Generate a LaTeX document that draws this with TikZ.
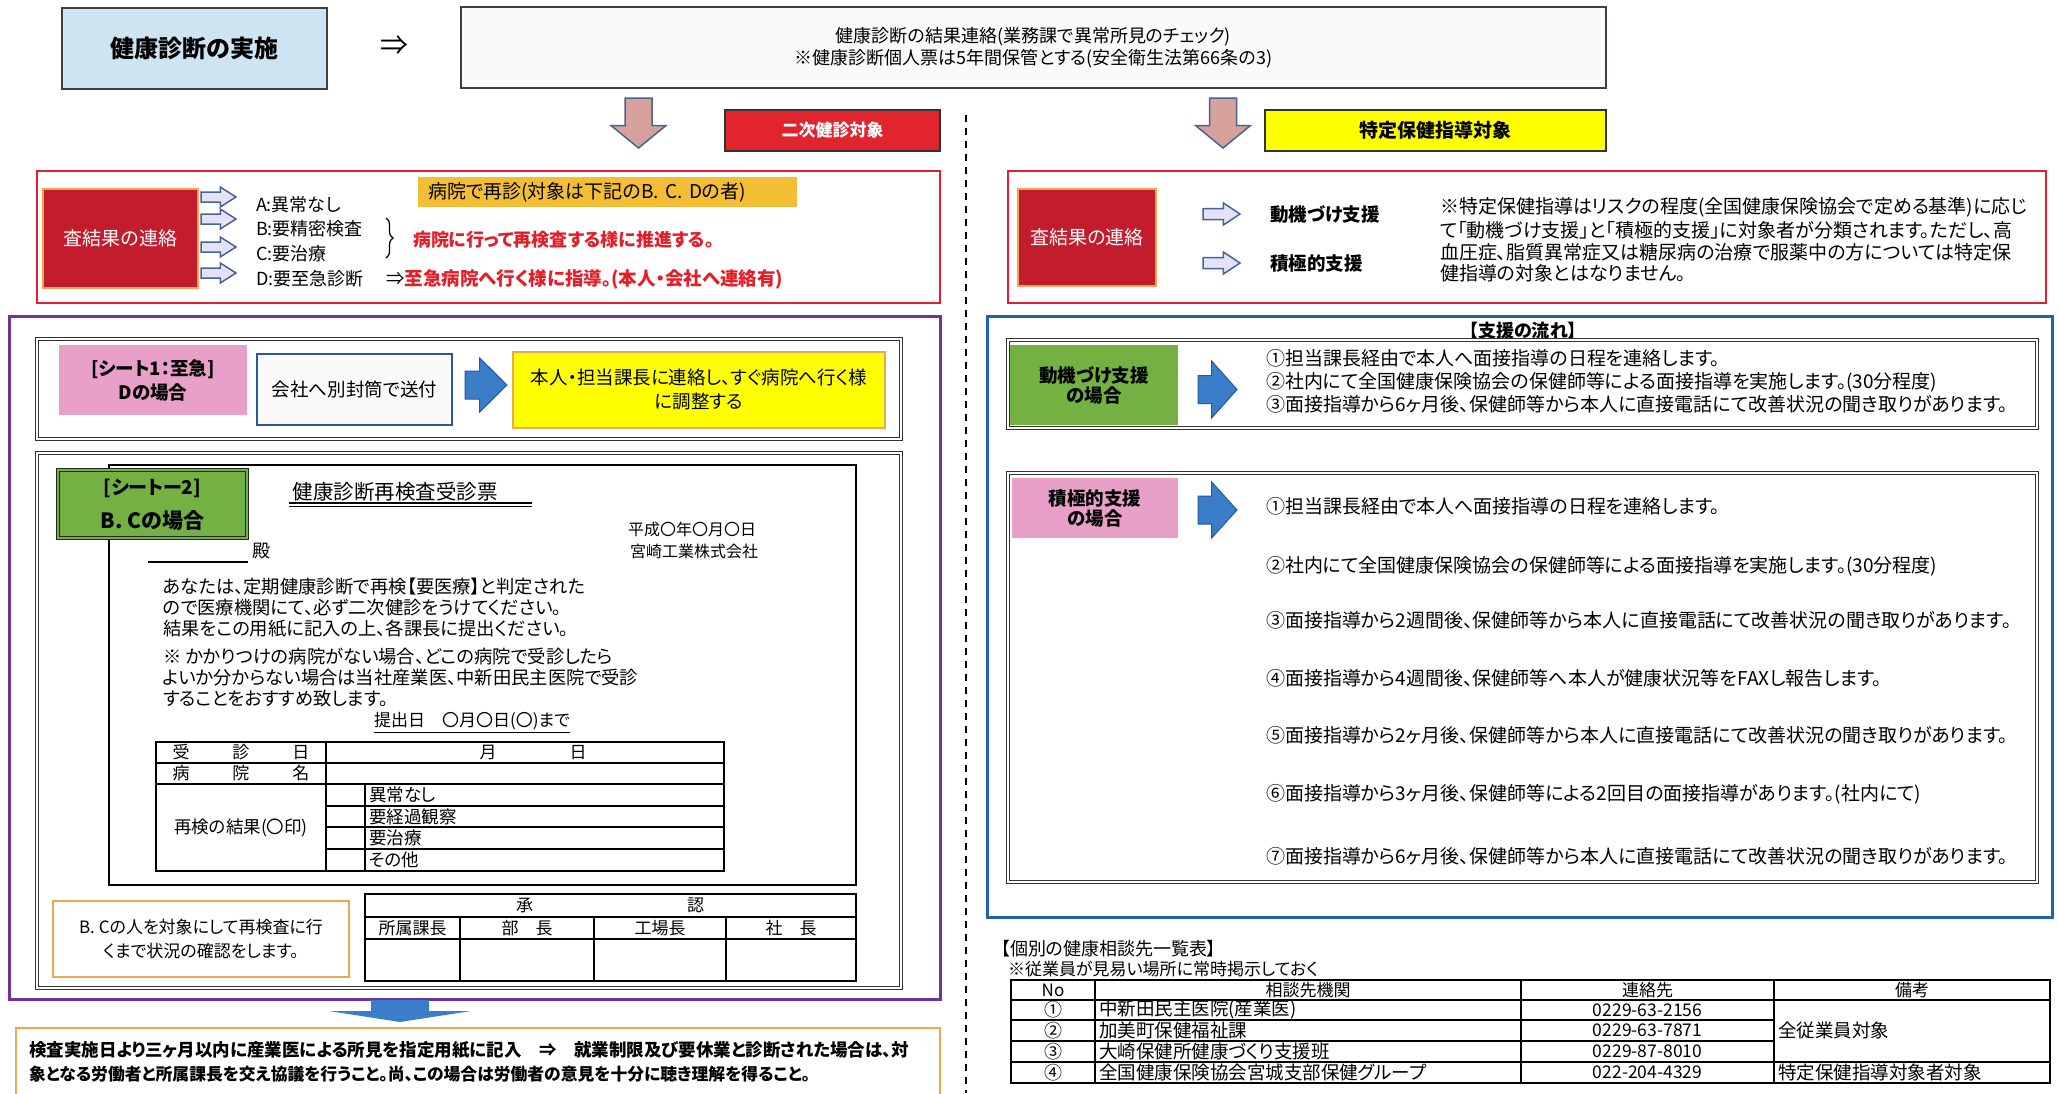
\documentclass[tikz,border=0pt]{standalone}
\usepackage{fontspec}
\setmainfont[RawFeature=+palt]{Noto Sans CJK JP}
\usetikzlibrary{decorations.pathreplacing}
\newcommand{\fsz}[2]{\fontsize{#1}{#2}\selectfont}
\newcommand{\blockR}[7]{\draw[#1] ({#2},{#4-#6}) -- ({#2+#7*(#3-#2)},{#4-#6}) -- ({#2+#7*(#3-#2)},{#4-#5}) -- ({#3},{#4}) -- ({#2+#7*(#3-#2)},{#4+#5}) -- ({#2+#7*(#3-#2)},{#4+#6}) -- ({#2},{#4+#6}) -- cycle;}
\newcommand{\blockD}[7]{\draw[#1] ({#2-#6},{#3}) -- ({#2+#6},{#3}) -- ({#2+#6},{#3+#7*(#4-#3)}) -- ({#2+#5},{#3+#7*(#4-#3)}) -- ({#2},{#4}) -- ({#2-#5},{#3+#7*(#4-#3)}) -- ({#2-#6},{#3+#7*(#4-#3)}) -- cycle;}
\definecolor{cLB}{RGB}{205,228,243}
\definecolor{cTop}{RGB}{251,249,249}
\definecolor{cPinkArr}{RGB}{214,160,155}
\definecolor{cArrEdge}{RGB}{70,100,150}
\definecolor{cRed}{RGB}{226,36,44}
\definecolor{cFrameRed}{RGB}{225,30,50}
\definecolor{cDarkRed}{RGB}{195,28,45}
\definecolor{cOrange}{RGB}{240,165,80}
\definecolor{cGold}{RGB}{243,190,52}
\definecolor{cPurple}{RGB}{112,48,160}
\definecolor{cBlue}{RGB}{32,98,178}
\definecolor{cPink}{RGB}{232,160,200}
\definecolor{cGreen}{RGB}{115,178,66}
\definecolor{cArrBlue}{RGB}{58,125,200}
\definecolor{cArrBlueE}{RGB}{40,88,160}
\definecolor{cSmallArr}{RGB}{228,226,246}
\definecolor{cTxtRed}{RGB}{228,30,40}
\definecolor{cYellow}{RGB}{255,255,0}
\tikzset{
  txt/.style={font=\fsz{#1}{#1}},
  dbl/.style={draw=black!80, double=white, double distance=2.5pt, line width=1pt},
  smallarr/.style={fill=cSmallArr, draw=cArrEdge, line width=1.5pt},
  bigarr/.style={fill=cArrBlue, draw=cArrBlueE, line width=1pt},
  pinkarr/.style={fill=cPinkArr, draw=cArrEdge, line width=1.5pt},
  redblock/.style={fill=cDarkRed, draw=cOrange, line width=2pt, text=white, font=\fsz{19}{22}},
}
\begin{document}
\begin{tikzpicture}[x=1pt,y=-1pt, every node/.style={inner sep=0pt, outer sep=0pt}]
\useasboundingbox (0,0) rectangle (2059,1093);
\fill[white] (0,0) rectangle (2059,1093);

% ---------- top ----------
\node[draw=black!75, line width=1.5pt, fill=cLB, minimum width=265, minimum height=81, font=\fsz{24}{28}\bfseries] (jisshi) at (194.5,48.5) {健康診断の実施};
\node[font=\fsz{28}{30}] (imp) at (394,46) {⇒};
\node[draw=black!75, line width=1.5pt, fill=cTop, minimum width=1145, minimum height=81, align=center, font=\fsz{18}{22}] (renraku) at (1033.5,47.5) {健康診断の結果連絡(業務課で異常所見のチェック)\\※健康診断個人票は5年間保管とする(安全衛生法第66条の3)};
\blockD{pinkarr}{638.5}{98}{148}{27.5}{13.5}{0.55}
\blockD{pinkarr}{1223}{98}{148}{27.5}{13.5}{0.55}
\node[draw=black!80, line width=2pt, fill=cRed, minimum width=215, minimum height=41, text=white, font=\fsz{17}{20}\bfseries] (niji) at (832.5,130.5) {二次健診対象};
\node[draw=black!80, line width=2pt, fill=cYellow, minimum width=341, minimum height=41, font=\fsz{19}{22}\bfseries] (tokutei) at (1435.5,130.5) {特定保健指導対象};
\coordinate (dtop) at (966,115);
\coordinate (dbot) at (966,1093);
\draw[line width=1.8pt, dash pattern=on 7pt off 6pt] (dtop) -- (dbot);

% ---------- left red box ----------
\node[draw=cFrameRed, line width=2.5pt, minimum width=903, minimum height=132] (redL) at (488.5,237) {};
\node[redblock, minimum width=155, minimum height=99] (kekkaL) at (120.5,238.5) {査結果の連絡};
\foreach \yy in {197,219,247,273} {\blockR{smallarr}{201}{236}{\yy}{10}{5}{0.55}}
\node[anchor=west, txt=18] (gA) at (256,205) {A:異常なし};
\node[anchor=west, txt=18] (gB) at (256,229) {B:要精密検査};
\node[anchor=west, txt=18] (gC) at (256,254) {C:要治療};
\node[anchor=west, txt=18] (gD) at (256,279) {D:要至急診断};
\draw[decorate, decoration={brace, amplitude=7pt}, line width=1.2pt] (386,218) -- (386,258);
\node[anchor=west, text=cTxtRed, font=\fsz{18}{18}\bfseries] (suishin) at (413,240) {病院に行って再検査する様に推進する。};
\node[anchor=west, font=\fsz{18.5}{18}] (shikyu) at (386,279) {⇒\textcolor{cTxtRed}{\bfseries 至急病院へ行く様に指導。(本人・会社へ連絡有)}};
\node[fill=cGold, minimum width=379, minimum height=30, text width=359, align=left, txt=19] (saishin) at (607.5,192) {病院で再診(対象は下記のB. C. Dの者)};

% ---------- right red box ----------
\node[draw=cFrameRed, line width=2.5pt, minimum width=1038, minimum height=132] (redR) at (1527,237) {};
\node[redblock, minimum width=138, minimum height=97] (kekkaR) at (1087,237.5) {査結果の連絡};
\blockR{smallarr}{1203}{1240}{214}{11}{5.5}{0.55}
\blockR{smallarr}{1203}{1240}{263}{11}{5.5}{0.55}
\node[anchor=west, font=\fsz{18.5}{20}\bfseries] (doki) at (1270,214) {動機づけ支援};
\node[anchor=west, font=\fsz{18.5}{20}\bfseries] (sekkyoku) at (1270,264) {積極的支援};
\node[anchor=west, txt=19] (p1) at (1440,207) {※特定保健指導はリスクの程度(全国健康保険協会で定める基準)に応じ};
\node[anchor=west, txt=19] (p2) at (1440,230) {て「動機づけ支援」と「積極的支援」に対象者が分類されます。ただし、高};
\node[anchor=west, txt=19] (p3) at (1440,252) {血圧症、脂質異常症又は糖尿病の治療で服薬中の方については特定保};
\node[anchor=west, txt=19] (p4) at (1440,273) {健指導の対象とはなりません。};

% ---------- left purple box ----------
\node[draw=cPurple, line width=3pt, minimum width=931, minimum height=683] (purple) at (474.5,657.5) {};
\node[dbl, minimum width=864, minimum height=100] (sheet1) at (469,389) {};
\node[fill=cPink, minimum width=188, minimum height=70, align=center, font=\fsz{18.5}{24}\bfseries] (s1lab) at (153,380) {[シート1：至急]\\Dの場合};
\node[draw=cArrBlueE, line width=2pt, fill=cTop, minimum width=195, minimum height=71, txt=18.5] (fuso) at (354.5,389.5) {会社へ別封筒で送付};
\blockR{bigarr}{465}{507}{385}{27}{14}{0.35}
\node[fill=cYellow, draw=cOrange, line width=2pt, minimum width=372, minimum height=76, align=center, font=\fsz{18.5}{24}] (chosei) at (699,390) {本人・担当課長に連絡し、すぐ病院へ行く様\\に調整する};

\node[dbl, minimum width=864, minimum height=535] (sheet2) at (469,720.5) {};
\node[draw=black, line width=1.5pt, minimum width=747, minimum height=420] (form) at (482.5,675) {};
\node[fill=cGreen, draw=black!85, line width=1pt, double=cGreen, double distance=1.5pt, minimum width=189, minimum height=68] (s2lab) at (152.5,504) {};
\node[font=\fsz{19}{20}\bfseries] (s2a) at (152.5,488) {[シートー2]};
\node[font=\fsz{21}{22}\bfseries] (s2b) at (152.5,521) {B. Cの場合};

\node[txt=20.5] (title) at (395,492) {健康診断再検査受診票};
\draw[line width=1.2pt] (289,503) -- (532,503);
\draw[line width=1.2pt] (289,506.5) -- (532,506.5);
\node[txt=16] (date) at (692,529) {平成〇年〇月〇日};
\node[txt=16] (company) at (694,551) {宮崎工業株式会社};
\draw[line width=1.2pt] (148,562) -- (248,562);
\node[anchor=west, txt=18] (tono) at (252,551) {殿};
\node[anchor=west, txt=18.3] (f1) at (163,587) {あなたは、定期健康診断で再検【要医療】と判定された};
\node[anchor=west, txt=18.3] (f2) at (163,608) {ので医療機関にて、必ず二次健診をうけてください。};
\node[anchor=west, txt=18.3] (f3) at (163,629) {結果をこの用紙に記入の上、各課長に提出ください。};
\node[anchor=west, txt=18.3] (f4) at (163,657) {※ かかりつけの病院がない場合、どこの病院で受診したら};
\node[anchor=west, txt=18.3] (f5) at (163,678) {よいか分からない場合は当社産業医、中新田民主医院で受診};
\node[anchor=west, txt=18.3] (f6) at (163,699) {することをおすすめ致します。};
\node[txt=17] (teishutsu) at (472,721) {提出日　〇月〇日(〇)まで};
\draw[line width=1.2pt] ([yshift=-3pt]teishutsu.south west) -- ([yshift=-3pt]teishutsu.south east);

% table 1
\draw[line width=1.5pt] (156,742) rectangle (724,871);
\draw[line width=1.5pt] (156,763) -- (724,763);
\draw[line width=1.5pt] (156,784) -- (724,784);
\draw[line width=1.2pt] (326,742) -- (326,871);
\draw[line width=1.2pt] (326,806) -- (724,806);
\draw[line width=1.2pt] (326,827) -- (724,827);
\draw[line width=1.2pt] (326,849) -- (724,849);
\draw[line width=1.2pt] (365,784) -- (365,871);
\node[txt=17] (jushinbi) at (241,752.5) {受\hspace{43pt}診\hspace{43pt}日};
\node[txt=17] (tsukihi) at (533,752.5) {月\hspace{73pt}日};
\node[txt=17] (byoin) at (241,773.5) {病\hspace{43pt}院\hspace{43pt}名};
\node[txt=17.5] (saikekka) at (241,827.5) {再検の結果(〇印)};
\node[anchor=west, txt=17.5] (r1) at (369,795) {異常なし};
\node[anchor=west, txt=17.5] (r2) at (369,816.5) {要経過観察};
\node[anchor=west, txt=17.5] (r3) at (369,838) {要治療};
\node[anchor=west, txt=17.5] (r4) at (369,860) {その他};

\node[draw=cOrange, line width=2.5pt, minimum width=296, minimum height=76, align=center, font=\fsz{17}{24}] (note) at (201,939) {B. Cの人を対象にして再検査に行\\くまで状況の確認をします。};

% approval table
\draw[line width=1.5pt] (365,894) rectangle (856,981);
\draw[line width=1.2pt] (365,917) -- (856,917);
\draw[line width=1.2pt] (365,939) -- (856,939);
\draw[line width=1.2pt] (460,917) -- (460,981);
\draw[line width=1.2pt] (594,917) -- (594,981);
\draw[line width=1.2pt] (726,917) -- (726,981);
\node[txt=17] (shonin) at (610,905.5) {承\hspace{154pt}認};
\node[txt=17] (kacho) at (412.5,928) {所属課長};
\node[txt=17] (bucho) at (527,928) {部　長};
\node[txt=17] (jocho) at (660,928) {工場長};
\node[txt=17] (shacho) at (791,928) {社　長};

% bottom
\blockD{fill=cArrBlue, draw=none}{400}{1000}{1022}{71}{29}{0.5}
\node[draw=cOrange, line width=2.5pt, minimum width=924, minimum height=80] (bottom) at (478,1068) {};
\node[anchor=west, font=\fsz{17.5}{20}\bfseries] (b1) at (29,1050) {検査実施日より三ヶ月以内に産業医による所見を指定用紙に記入　⇒　就業制限及び要休業と診断された場合は、対};
\node[anchor=west, font=\fsz{16.8}{20}\bfseries] (b2) at (29,1074) {象となる労働者と所属課長を交え協議を行うこと。尚、この場合は労働者の意見を十分に聴き理解を得ること。};

% ---------- right blue box ----------
\node[draw=cBlue, line width=3pt, minimum width=1065, minimum height=601] (blueR) at (1519.5,616.5) {};
\node[font=\fsz{18}{20}\bfseries] (nagare) at (1523,331) {【支援の流れ】};
\node[dbl, minimum width=1029, minimum height=88] (sheetA) at (1522.5,384) {};
\node[fill=cGreen, minimum width=168, minimum height=80, align=center, font=\fsz{18.5}{20}\bfseries] (glab) at (1094,385) {動機づけ支援\\の場合};
\blockR{bigarr}{1198}{1237}{389.5}{28.5}{14}{0.35}
\node[anchor=west, txt=19] (a1) at (1266,358) {①担当課長経由で本人へ面接指導の日程を連絡します。};
\node[anchor=west, txt=19] (a2) at (1266,382) {②社内にて全国健康保険協会の保健師等による面接指導を実施します。(30分程度)};
\node[anchor=west, txt=19] (a3) at (1266,404) {③面接指導から6ヶ月後、保健師等から本人に直接電話にて改善状況の聞き取りがあります。};

\node[dbl, minimum width=1029, minimum height=409] (sheetB) at (1522.5,677.5) {};
\node[fill=cPink, minimum width=166, minimum height=60, align=center, font=\fsz{18.5}{20}\bfseries] (plab) at (1095,508) {積極的支援\\の場合};
\blockR{bigarr}{1198}{1237}{510}{28}{14}{0.35}
\node[anchor=west, txt=19] (k1) at (1266,506) {①担当課長経由で本人へ面接指導の日程を連絡します。};
\node[anchor=west, txt=19] (k2) at (1266,566) {②社内にて全国健康保険協会の保健師等による面接指導を実施します。(30分程度)};
\node[anchor=west, txt=19] (k3) at (1266,620) {③面接指導から2週間後、保健師等から本人に直接電話にて改善状況の聞き取りがあります。};
\node[anchor=west, txt=19] (k4) at (1266,678) {④面接指導から4週間後、保健師等へ本人が健康状況等をFAXし報告します。};
\node[anchor=west, txt=19] (k5) at (1266,735) {⑤面接指導から2ヶ月後、保健師等から本人に直接電話にて改善状況の聞き取りがあります。};
\node[anchor=west, txt=19] (k6) at (1266,794) {⑥面接指導から3ヶ月後、保健師等による2回目の面接指導があります。(社内にて)};
\node[anchor=west, txt=19] (k7) at (1266,856) {⑦面接指導から6ヶ月後、保健師等から本人に直接電話にて改善状況の聞き取りがあります。};

% ---------- contact table ----------
\node[anchor=west, txt=18] (ichiran) at (1001,949) {【個別の健康相談先一覧表】};
\node[anchor=west, txt=17] (keiji) at (1008,969) {※従業員が見易い場所に常時掲示しておく};
\draw[line width=1.5pt] (1011,980) rectangle (2050,1083);
\draw[line width=1.5pt] (1011,1000) -- (2050,1000);
\draw[line width=1.2pt] (1011,1020) -- (1774,1020);
\draw[line width=1.2pt] (1011,1041) -- (1774,1041);
\draw[line width=1.5pt] (1011,1062) -- (2050,1062);
\draw[line width=1.2pt] (1095,980) -- (1095,1083);
\draw[line width=1.2pt] (1521,980) -- (1521,1083);
\draw[line width=1.2pt] (1774,980) -- (1774,1083);
\node[txt=17] (hno) at (1053,990) {No};
\node[txt=17] (hkikan) at (1308,990) {相談先機関};
\node[txt=17] (hren) at (1647.5,990) {連絡先};
\node[txt=17] (hbiko) at (1912,990) {備考};
\node[txt=18] (n1) at (1053,1010) {①};
\node[txt=18] (n2) at (1053,1030.5) {②};
\node[txt=18] (n3) at (1053,1051.5) {③};
\node[txt=18] (n4) at (1053,1072.5) {④};
\node[anchor=west, txt=18.5] (m1) at (1099,1010) {中新田民主医院(産業医)};
\node[anchor=west, txt=18.5] (m2) at (1099,1030.5) {加美町保健福祉課};
\node[anchor=west, txt=18.5] (m3) at (1099,1051.5) {大崎保健所健康づくり支援班};
\node[anchor=west, txt=18.5] (m4) at (1099,1072.5) {全国健康保険協会宮城支部保健グループ};
\node[txt=17.5] (t1) at (1647.5,1010) {0229-63-2156};
\node[txt=17.5] (t2) at (1647.5,1030.5) {0229-63-7871};
\node[txt=17.5] (t3) at (1647.5,1051.5) {0229-87-8010};
\node[txt=17.5] (t4) at (1647.5,1072.5) {022-204-4329};
\node[anchor=west, txt=18.5] (zen) at (1778,1030.5) {全従業員対象};
\node[anchor=west, txt=18.5] (tok) at (1778,1072.5) {特定保健指導対象者対象};
\end{tikzpicture}
\end{document}
